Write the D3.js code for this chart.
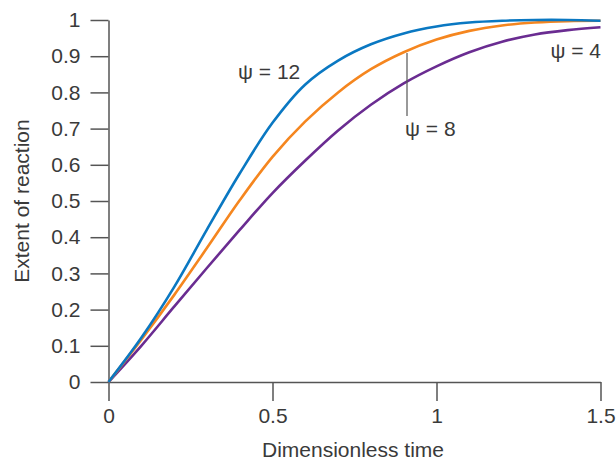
<!DOCTYPE html>
<html>
<head>
<meta charset="utf-8">
<script src="https://cdn.jsdelivr.net/npm/d3@7"></script>
<style>
  html, body { margin: 0; padding: 0; background: #fff; }
  svg text { font-family: "Liberation Sans", Arial, Helvetica, sans-serif; fill: #3a3a3a; }
</style>
</head>
<body>
<svg id="chart" width="616" height="460"></svg>
<script>
// ---- data ----
const times = [0, 0.1, 0.2, 0.3, 0.4, 0.5, 0.6, 0.7, 0.8, 0.9, 1.0, 1.1, 1.2, 1.3, 1.4, 1.5];
const psi12 = [0, 0.122, 0.262, 0.421, 0.576, 0.716, 0.822, 0.888, 0.933, 0.963, 0.982, 0.993, 0.998, 1.0, 1.0, 0.998];
const psi8  = [0, 0.117, 0.24, 0.37, 0.502, 0.622, 0.72, 0.80, 0.864, 0.911, 0.946, 0.97, 0.985, 0.993, 0.997, 0.998];
const psi4  = [0, 0.10, 0.208, 0.315, 0.42, 0.522, 0.612, 0.695, 0.766, 0.825, 0.872, 0.911, 0.94, 0.96, 0.972, 0.98];
const seriesNames = ["ψ = 12", "ψ = 8", "ψ = 4"];
const xTicks = [0, 0.5, 1, 1.5];
const xTickLabels = ["0", "0.5", "1", "1.5"];
const yTicks = [0, 0.1, 0.2, 0.3, 0.4, 0.5, 0.6, 0.7, 0.8, 0.9, 1];
const yTickLabels = ["0", "0.1", "0.2", "0.3", "0.4", "0.5", "0.6", "0.7", "0.8", "0.9", "1"];
const xTitle = "Dimensionless time";
const yTitle = "Extent of reaction";

const colors = ["#0a78c2", "#f5861f", "#6a2c91"];
const FS = 21;

const svg = d3.select("#chart");
const x = d3.scaleLinear().domain([0, 1.5]).range([108.5, 600.5]);
const y = d3.scaleLinear().domain([0, 1]).range([382, 20]);

// axes
const axisColor = "#555";
const xAxis = d3.axisBottom(x).tickValues(xTicks).tickFormat((d, i) => xTickLabels[i]).tickSize(19).tickPadding(7).tickSizeOuter(0);
const gx = svg.append("g").attr("transform", "translate(0,382)").call(xAxis);
gx.select(".domain").attr("stroke", axisColor).attr("stroke-width", 1.5);
gx.selectAll(".tick line").attr("stroke", axisColor).attr("stroke-width", 1.5);
gx.selectAll(".tick text").attr("font-size", FS).attr("fill", "#3a3a3a").style("font-family", "Liberation Sans, Arial, sans-serif");

const yAxis = d3.axisLeft(y).tickValues(yTicks).tickFormat((d, i) => yTickLabels[i]).tickSize(18).tickPadding(10).tickSizeOuter(0);
const gy = svg.append("g").attr("transform", "translate(108.5,0)").call(yAxis);
gy.select(".domain").attr("stroke", axisColor).attr("stroke-width", 1.5);
gy.selectAll(".tick line").attr("stroke", axisColor).attr("stroke-width", 1.5);
gy.selectAll(".tick text").attr("font-size", FS).attr("fill", "#3a3a3a").style("font-family", "Liberation Sans, Arial, sans-serif");

// titles
svg.append("text").attr("x", 353).attr("y", 457).attr("text-anchor", "middle")
  .attr("font-size", FS).text(xTitle);
svg.append("text").attr("transform", "translate(29,201) rotate(-90)").attr("text-anchor", "middle")
  .attr("font-size", FS).text(yTitle);

// lines
const line = d3.line().x(d => x(d[0])).y(d => y(d[1])).curve(d3.curveCatmullRom.alpha(0.5));
[psi4, psi8, psi12].forEach((vals, k) => {
  const idx = 2 - k;
  svg.append("path")
    .datum(times.map((t, i) => [t, vals[i]]))
    .attr("fill", "none")
    .attr("stroke", colors[idx])
    .attr("stroke-width", 2.6)
    .attr("d", line);
});

// labels
svg.append("text").attr("x", 238).attr("y", 79).attr("font-size", FS).text(seriesNames[0]);
svg.append("line").attr("x1", 407).attr("x2", 407).attr("y1", 53).attr("y2", 116)
  .attr("stroke", "#555").attr("stroke-width", 1.2);
svg.append("text").attr("x", 405).attr("y", 136).attr("font-size", FS).text(seriesNames[1]);
svg.append("text").attr("x", 601).attr("y", 58).attr("text-anchor", "end").attr("font-size", FS).text(seriesNames[2]);
</script>
</body>
</html>
